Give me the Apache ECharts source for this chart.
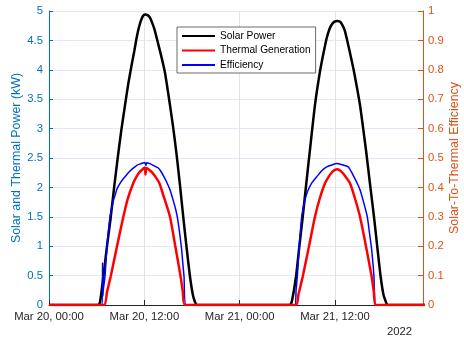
<!DOCTYPE html>
<html>
<head>
<meta charset="utf-8">
<script src="https://cdn.jsdelivr.net/npm/echarts@6/dist/echarts.min.js"></script>
<style>
html,body{margin:0;padding:0;background:#fff;}
#c{width:464px;height:342px;}
</style>
</head>
<body>
<div id="c"></div>
<script>
// Hours since Mar 20 00:00 and values
var solarHours = [0, 6.2, 6.42, 6.84, 7.3, 7.76, 8.2, 8.65, 9.1, 9.57, 10.0, 10.4, 10.75, 11.04, 11.3, 11.58, 11.85, 12.1, 12.4, 12.7, 12.93, 13.25, 13.56, 14.1, 14.6, 15.23, 15.65, 16.07, 16.5, 16.9, 17.3, 17.75, 18.1, 18.38, 18.6,
  30.3, 30.55, 31.09, 31.5, 31.94, 32.4, 32.85, 33.48, 34.11, 34.55, 34.96, 35.3, 35.6, 35.95, 36.29, 36.6, 36.9, 37.2, 37.47, 37.9, 38.39, 39.15, 39.5, 39.9, 40.4, 40.91, 41.3, 41.75, 42.1, 42.42, 42.6, 48];
var solarKW = [0, 0, 0.05, 0.48, 1.0, 1.48, 2.0, 2.5, 2.97, 3.40, 3.78, 4.08, 4.33, 4.55, 4.71, 4.84, 4.92, 4.94, 4.93, 4.89, 4.82, 4.70, 4.54, 4.25, 3.95, 3.40, 3.0, 2.55, 2.02, 1.5, 1.0, 0.48, 0.18, 0.05, 0,
  0, 0.05, 0.48, 0.98, 1.5, 2.08, 2.64, 3.40, 3.97, 4.28, 4.54, 4.69, 4.77, 4.82, 4.83, 4.82, 4.77, 4.68, 4.54, 4.28, 3.97, 3.40, 3.05, 2.64, 2.07, 1.5, 1.02, 0.48, 0.18, 0.05, 0, 0];

var thermalHours = [0, 6.92, 7.3, 7.76, 8.3, 8.8, 9.36, 9.9, 10.6, 11.0, 11.4, 11.8, 12.05, 12.15, 12.25, 12.6, 13.0, 13.45, 13.9, 14.5, 15.23, 15.9, 16.57, 16.85, 17.12,
  31.09, 31.4, 31.94, 32.7, 33.48, 34.1, 34.74, 35.2, 35.7, 36.0, 36.29, 36.6, 37.0, 37.4, 37.89, 38.5, 39.15, 39.9, 40.62, 40.9, 41.16, 48];
var thermalKW = [0, 0, 0.22, 0.48, 0.83, 1.15, 1.5, 1.80, 2.07, 2.18, 2.26, 2.31, 2.34, 2.22, 2.33, 2.30, 2.25, 2.17, 2.07, 1.82, 1.5, 1.0, 0.48, 0.22, 0,
  0, 0.18, 0.48, 0.98, 1.5, 1.82, 2.07, 2.18, 2.27, 2.30, 2.31, 2.29, 2.24, 2.17, 2.07, 1.82, 1.5, 1.0, 0.48, 0.22, 0, 0];

var effHours = [0, 6.70, 6.74, 6.78, 6.85, 7.05, 7.26, 7.47, 7.68, 7.85, 8.05, 8.3, 8.52, 8.75, 9.0, 9.3, 9.57, 9.9, 10.2, 10.5, 10.83, 11.1, 11.5, 11.8, 12.08, 12.2, 12.3, 12.7, 13.2, 13.76, 14.1, 14.48, 14.85, 15.23, 15.7, 15.95, 16.15, 16.45, 16.7, 16.85, 17.0, 17.25,
  30.95, 31.1, 31.26, 31.47, 31.81, 32.15, 32.4, 32.64, 33.1, 33.7, 34.3, 34.96, 35.6, 36.2, 36.9, 37.68, 38.0, 38.39, 38.8, 39.15, 39.6, 40.07, 40.35, 40.62, 40.8, 40.91, 41.16, 48];
var effRatio = [0, 0, 0.144, 0.03, 0.056, 0.096, 0.188, 0.25, 0.30, 0.325, 0.35, 0.372, 0.392, 0.405, 0.416, 0.428, 0.436, 0.447, 0.456, 0.463, 0.470, 0.476, 0.480, 0.483, 0.485, 0.475, 0.484, 0.481, 0.474, 0.466, 0.454, 0.436, 0.416, 0.392, 0.35, 0.325, 0.30, 0.244, 0.188, 0.14, 0.096, 0,
  0, 0.05, 0.096, 0.188, 0.30, 0.35, 0.375, 0.392, 0.416, 0.436, 0.456, 0.47, 0.476, 0.481, 0.477, 0.47, 0.456, 0.436, 0.414, 0.392, 0.35, 0.30, 0.244, 0.188, 0.135, 0.096, 0, 0];

var xTickLabels = {0: 'Mar 20, 00:00', 12: 'Mar 20, 12:00', 24: 'Mar 21, 00:00', 36: 'Mar 21, 12:00'};
var yearLabel = '2022';

function zip(a, b) { var r = []; for (var i = 0; i < a.length; i++) r.push([a[i], b[i]]); return r; }

var FONT = '"Liberation Sans", Arial, Helvetica, sans-serif';
var chart = echarts.init(document.getElementById('c'), null, {renderer: 'canvas'});
chart.setOption({
  animation: false,
  backgroundColor: '#ffffff',
  textStyle: {fontFamily: FONT},
  grid: {left: 49, right: 41, top: 11, bottom: 37, outerBoundsMode: 'none', containLabel: false},
  legend: {
    orient: 'vertical', left: 177, top: 27,
    padding: [2, 5, 1, 4], itemGap: 0.5, itemWidth: 33, itemHeight: 10,
    backgroundColor: '#ffffff', borderColor: '#2b2b2b', borderWidth: 0.7, borderRadius: 0,
    itemStyle: {color: 'rgba(0,0,0,0)', borderWidth: 0, opacity: 0},
    textStyle: {fontSize: 10.2, color: '#000', fontFamily: FONT, lineHeight: 14},
    data: ['Solar Power', 'Thermal Generation', 'Efficiency']
  },
  xAxis: {
    type: 'value', min: 0, max: 47.08, interval: 12,
    axisLine: {show: true, lineStyle: {color: '#262626', width: 1}},
    axisTick: {show: true, inside: true, length: 5, lineStyle: {color: '#262626'}},
    axisLabel: {
      color: '#262626', fontSize: 11.3, margin: 6, fontFamily: FONT, showMaxLabel: false,
      formatter: function (v) { return xTickLabels[v] || ''; }
    },
    splitLine: {show: true, lineStyle: {color: '#e4e4e4', width: 1}}
  },
  yAxis: [{
    type: 'value', min: 0, max: 5, interval: 0.5, position: 'left',
    name: 'Solar and Thermal Power (kW)', nameLocation: 'middle', nameGap: 26, nameRotate: 90,
    nameMoveOverlap: false,
    nameTextStyle: {color: '#0072BD', fontSize: 12.4, fontFamily: FONT},
    axisLine: {show: true, lineStyle: {color: '#0072BD', width: 1}},
    axisTick: {show: true, inside: true, length: 4, lineStyle: {color: '#0072BD'}},
    axisLabel: {color: '#0072BD', fontSize: 11.3, margin: 6, fontFamily: FONT},
    splitLine: {show: true, lineStyle: {color: '#e1eaf4', width: 1}}
  }, {
    type: 'value', min: 0, max: 1, interval: 0.1, position: 'right',
    name: 'Solar-To-Thermal Efficiency', nameLocation: 'middle', nameGap: 26, nameRotate: 90,
    nameMoveOverlap: false,
    nameTextStyle: {color: '#D95319', fontSize: 12.4, fontFamily: FONT},
    axisLine: {show: true, lineStyle: {color: '#D95319', width: 1}},
    axisTick: {show: true, inside: true, length: 5, lineStyle: {color: '#D95319'}},
    axisLabel: {color: '#D95319', fontSize: 11.3, margin: 5, fontFamily: FONT},
    splitLine: {show: false}
  }],
  graphic: [{
    type: 'text', left: 387, top: 326,
    style: {text: yearLabel, fontSize: 11.3, fill: '#262626', font: '11.3px ' + FONT}
  }],
  series: [{
    name: 'Solar Power', type: 'line', yAxisIndex: 0, data: zip(solarHours, solarKW),
    symbol: 'none', smooth: 0.2, z: 2,
    lineStyle: {color: '#000000', width: 2.5}, itemStyle: {color: '#000000'}
  }, {
    name: 'Thermal Generation', type: 'line', yAxisIndex: 0, data: zip(thermalHours, thermalKW),
    symbol: 'none', smooth: 0.2, z: 4,
    lineStyle: {color: '#ff0000', width: 2.5}, itemStyle: {color: '#ff0000'}
  }, {
    name: 'Efficiency', type: 'line', yAxisIndex: 1, data: zip(effHours, effRatio),
    symbol: 'none', smooth: 0.15, z: 3,
    lineStyle: {color: '#0000ff', width: 1.5}, itemStyle: {color: '#0000ff'}
  }]
});
</script>
</body>
</html>
